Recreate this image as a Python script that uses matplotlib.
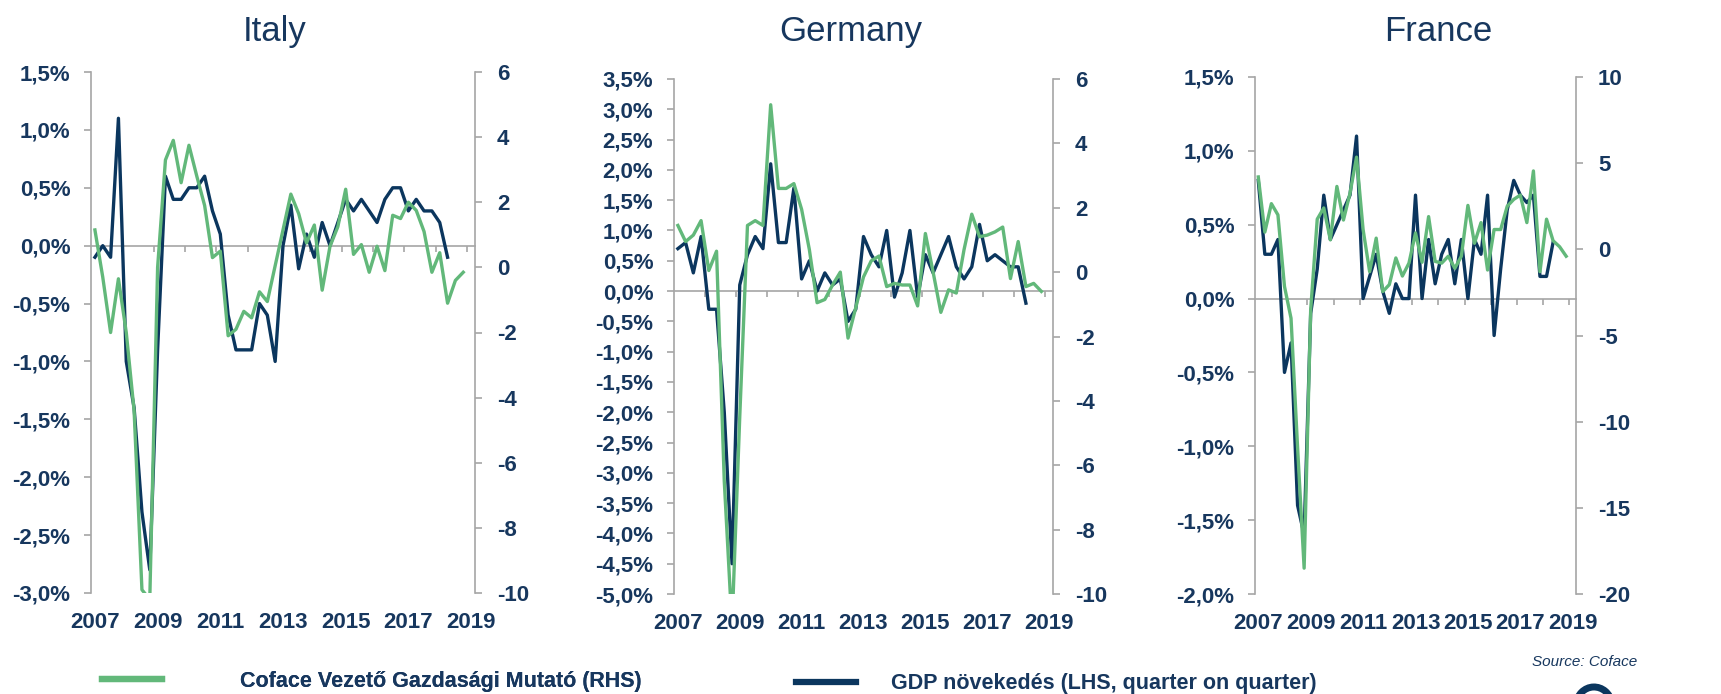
import numpy as np
import matplotlib.pyplot as plt
from matplotlib.ticker import FuncFormatter, FixedLocator
from matplotlib.lines import Line2D
from matplotlib.patches import Arc

plt.rcParams['font.family'] = ['Liberation Sans', 'DejaVu Sans']
plt.rcParams['font.weight'] = 'bold'
plt.rcParams['axes.unicode_minus'] = False

# quarterly data, 2007Q1 onwards
year_labels = ['2007', '2009', '2011', '2013', '2015', '2017', '2019']

italy_gdp = [-0.1, 0.0, -0.1, 1.1, -1.0, -1.4, -2.3, -2.8, -0.9, 0.6, 0.4, 0.4,
             0.5, 0.5, 0.6, 0.3, 0.1, -0.6, -0.9, -0.9, -0.9, -0.5, -0.6, -1.0,
             0.0, 0.35, -0.2, 0.1, -0.1, 0.2, 0.0, 0.2, 0.4, 0.3, 0.4, 0.3,
             0.2, 0.4, 0.5, 0.5, 0.3, 0.4, 0.3, 0.3, 0.2, -0.1]
italy_cli = [1.15, -0.3, -2.0, -0.35, -2.0, -4.4, -9.9, -10.2, 0.0, 3.3, 3.9, 2.6,
             3.75, 2.8, 1.9, 0.3, 0.5, -2.1, -1.9, -1.35, -1.55, -0.75, -1.05, 0.05,
             1.15, 2.25, 1.65, 0.75, 1.3, -0.7, 0.65, 1.25, 2.4, 0.4, 0.7, -0.15,
             0.65, -0.1, 1.6, 1.5, 2.0, 1.75, 1.1, -0.15, 0.45, -1.1, -0.4, -0.15]

germany_gdp = [0.7, 0.8, 0.3, 0.9, -0.3, -0.3, -2.0, -4.5, 0.1, 0.6, 0.9, 0.7,
               2.1, 0.8, 0.8, 1.7, 0.2, 0.5, 0.0, 0.3, 0.1, 0.2, -0.5, -0.3,
               0.9, 0.6, 0.4, 1.0, -0.1, 0.3, 1.0, -0.1, 0.6, 0.3, 0.6, 0.9,
               0.4, 0.2, 0.4, 1.1, 0.5, 0.6, 0.5, 0.4, 0.4, -0.2]
germany_cli = [1.45, 0.95, 1.15, 1.6, 0.05, 0.65, -6.5, -11.0, -4.5, 1.45, 1.6, 1.45,
               5.2, 2.6, 2.6, 2.75, 1.95, 0.7, -0.95, -0.85, -0.4, 0.0, -2.05, -1.1,
               -0.15, 0.35, 0.5, -0.45, -0.35, -0.4, -0.4, -1.05, 1.2, 0.0, -1.25, -0.55,
               -0.65, 0.7, 1.8, 1.1, 1.15, 1.25, 1.4, -0.2, 0.95, -0.45, -0.35, -0.6]

france_gdp = [0.8, 0.3, 0.3, 0.4, -0.5, -0.3, -1.4, -1.6, -0.1, 0.2, 0.7, 0.4,
              0.5, 0.6, 0.7, 1.1, 0.0, 0.15, 0.3, 0.05, -0.1, 0.1, 0.0, 0.0,
              0.7, 0.0, 0.4, 0.1, 0.3, 0.4, 0.1, 0.4, 0.0, 0.4, 0.3, 0.7,
              -0.25, 0.2, 0.6, 0.8, 0.7, 0.65, 0.7, 0.15, 0.15, 0.38]
france_cli = [4.2, 1.0, 2.65, 2.0, -2.15, -4.0, -11.5, -18.5, -3.5, 1.75, 2.4, 0.55,
              3.65, 1.7, 3.25, 5.35, 1.15, -1.3, 0.65, -2.45, -2.05, -0.5, -1.55, -0.8,
              0.95, -0.75, 1.9, -0.7, -0.8, -0.4, -1.1, -0.4, 2.55, 0.35, 1.55, -1.2,
              1.15, 1.15, 2.5, 2.9, 3.15, 1.55, 4.55, -1.3, 1.75, 0.5, 0.15, -0.4]

NAVY = '#0b365e'
GREEN = '#62b87a'
GRAY = '#a6a6a6'
TXT = '#17375e'
W, H = 1721, 694

fig = plt.figure(figsize=(W / 100, H / 100), dpi=100)


def pct(v, pos):
    return f'{v:.1f}%'.replace('.', ',')


def panel(px, title, title_x, gdp, cli, left_lim, left_step, right_lim, right_step):
    x0, x1, y0, y1 = px
    ax = fig.add_axes([x0 / W, 1 - y1 / H, (x1 - x0) / W, (y1 - y0) / H])
    ax2 = ax.twinx()

    ax.plot(np.arange(len(gdp)), gdp, color=NAVY, lw=2.4, zorder=3)
    ax2.plot(np.arange(len(cli)), cli, color=GREEN, lw=2.4, zorder=3)

    ax.set_xlim(-0.5, 48.5)
    ax.set_ylim(*left_lim)
    ax.set_yticks(np.arange(left_lim[0], left_lim[1] + 1e-9, left_step))
    ax.yaxis.set_major_formatter(FuncFormatter(pct))
    ax2.set_ylim(*right_lim)
    ax2.set_yticks(np.arange(right_lim[0], right_lim[1] + 1e-9, right_step))

    for s in ['top', 'right']:
        ax.spines[s].set_visible(False)
    for s in ['top', 'bottom', 'left']:
        ax2.spines[s].set_visible(False)
    ax.spines['bottom'].set_position(('data', 0))
    for s in [ax.spines['bottom'], ax.spines['left'], ax2.spines['right']]:
        s.set_color(GRAY)
        s.set_linewidth(1.2)

    ax.xaxis.set_major_locator(FixedLocator(np.arange(3.5, 48, 4)))
    ax.tick_params(axis='x', direction='out', length=4.5, width=1.2, color=GRAY,
                   labelbottom=False)
    ax.tick_params(axis='y', length=5.3, width=1.2, color=GRAY, pad=9.6,
                   labelsize=16, labelcolor=TXT)
    ax2.tick_params(axis='y', length=5.3, width=1.2, color=GRAY, pad=10.6,
                    labelsize=16, labelcolor=TXT)

    sec = ax.secondary_xaxis('bottom')
    sec.set_xticks(np.arange(0, 49, 8), year_labels)
    sec.spines['bottom'].set_visible(False)
    sec.tick_params(length=0, pad=14, labelsize=16, labelcolor=TXT)

    fig.text(title_x / W, 1 - 41 / H, title, ha='center', va='baseline',
             fontsize=25, fontweight='normal', color=TXT)


panel((91, 475, 72, 593), 'Italy', 275, italy_gdp, italy_cli,
      (-3.0, 1.5), 0.5, (-10, 6), 2)
panel((674, 1053, 79, 594), 'Germany', 851, germany_gdp, germany_cli,
      (-5.0, 3.5), 0.5, (-10, 6), 2)
panel((1255, 1576, 77, 594), 'France', 1438, france_gdp, france_cli,
      (-2.0, 1.5), 0.5, (-20, 10), 5)

leg_kw = dict(loc='center left', frameon=False, handlelength=2.8, borderpad=0,
              borderaxespad=0, prop={'size': 15.5, 'weight': 'bold'}, labelcolor=TXT)
leg1 = fig.legend([Line2D([], [], color=GREEN, lw=4.5)],
                  ['Coface Vezető Gazdasági Mutató (RHS)'],
                  bbox_to_anchor=(102 / W, 1 - 681 / H), handletextpad=3.6, **leg_kw)
fig.add_artist(leg1)
fig.legend([Line2D([], [], color=NAVY, lw=4.5)],
           ['GDP növekedés (LHS, quarter on quarter)'],
           bbox_to_anchor=(796 / W, 1 - 684 / H), handletextpad=1.6, **leg_kw)

fig.text(1532 / W, 1 - 662 / H, 'Source: Coface', ha='left', va='center',
         fontsize=11, style='italic', fontweight='normal', color=TXT)

# top of the cut-off logo at the bottom right
fig.add_artist(Arc((1594 / W, 1 - 706 / H), 36 / W, 38 / H, theta1=25, theta2=165,
                   lw=5, color=NAVY, transform=fig.transFigure))

fig.savefig('out.png', dpi=100)
